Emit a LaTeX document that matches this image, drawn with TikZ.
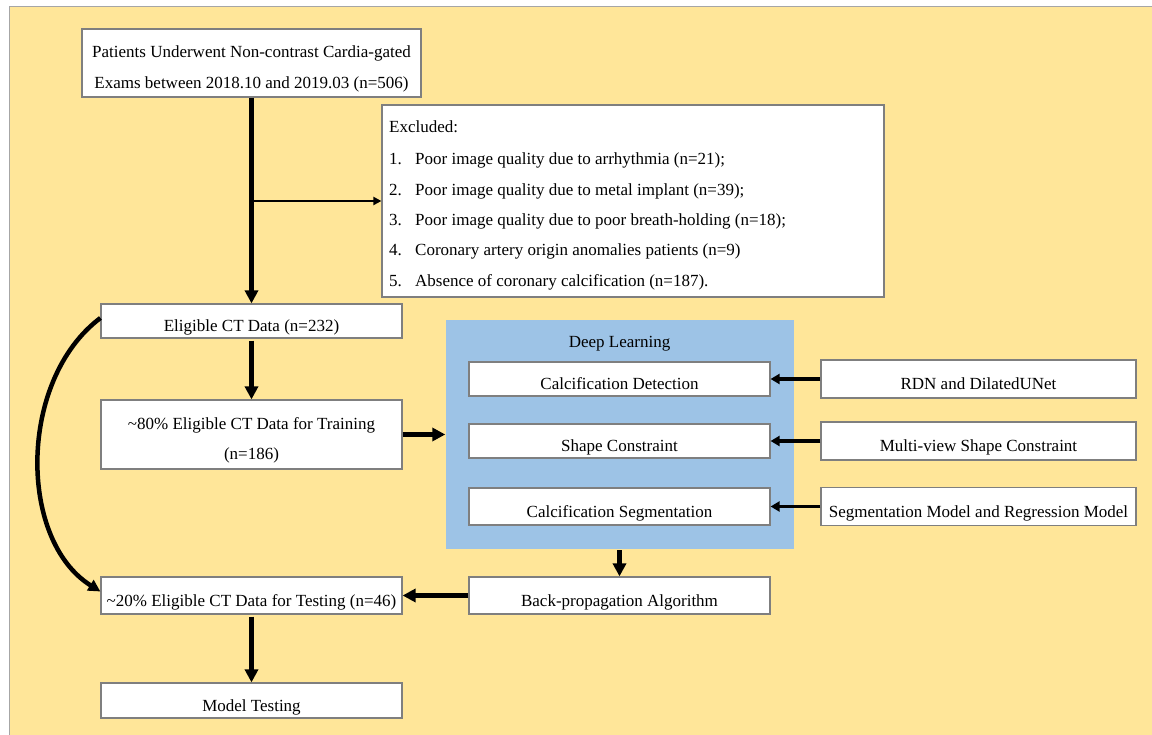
\documentclass[tikz,border=0pt]{standalone}
\usepackage{fontspec}
\setmainfont{Liberation Serif}
\usetikzlibrary{arrows.meta}
\definecolor{bgyellow}{HTML}{FFE699}
\definecolor{dlblue}{HTML}{9DC3E6}
\definecolor{boxline}{HTML}{7F7F7F}
\newcommand{\twoln}[2]{\raisebox{0pt}[10pt][21pt]{\renewcommand\arraystretch{1.5}\begin{tabular}[t]{@{}c@{}}#1\\#2\end{tabular}}}
\begin{document}
\begin{tikzpicture}[x=1pt,y=-1pt,
  boxbase/.style={draw=boxline, line width=1.2pt, fill=white, inner sep=0pt,
    font=\fontsize{17}{20.4}\selectfont},
  box/.style={boxbase, text height=21pt, text depth=0pt},
  txt/.style={inner sep=0pt, font=\fontsize{17}{20.4}\selectfont},
  bigarrow/.style={line width=5pt, -{Triangle[length=13pt,width=13pt]}},
  curvearrow/.style={line width=4.5pt, -{Triangle[length=12pt,width=12pt]}},
  midarrow/.style={line width=3.3pt, -{Triangle[length=9pt,width=10pt]}},
  smallarrow/.style={line width=2.2pt, -{Triangle[length=8pt,width=8pt]}}
]
\useasboundingbox (0,0) rectangle (1152,735);
\fill[bgyellow] (9,6) rectangle (1152,735);
\draw[black!35, line width=0.8pt] (9,735) -- (9,6) -- (1152,6);

% left column
\node[boxbase, minimum width=339pt, minimum height=68pt] (top) at (251.5,63)
  {\twoln{Patients Underwent Non-contrast Cardia-gated}{Exams between 2018.10 and 2019.03 (n=506)}};
\node[box, minimum width=301pt, minimum height=34pt] (elig) at (251.5,321) {Eligible CT Data (n=232)};
\node[boxbase, minimum width=301pt, minimum height=69pt] (train) at (251.5,434.5)
  {\twoln{\char`\~80\% Eligible CT Data for Training}{(n=186)}};
\node[box, minimum width=301pt, minimum height=37pt] (test) at (251.5,595.5) {\char`\~20\% Eligible CT Data for Testing (n=46)};
\node[box, minimum width=301pt, minimum height=35pt] (mt) at (251.5,700.5) {Model Testing};

% excluded
\node[boxbase, minimum width=502pt, minimum height=192pt] (excl) at (633,201) {};
\node[txt, anchor=base west] (ex0) at (389,133) {Excluded:};
\node[txt, anchor=base west] (ex1) at (389,165) {\makebox[26pt][l]{1.}Poor image quality due to arrhythmia (n=21);};
\node[txt, anchor=base west] (ex2) at (389,195.5) {\makebox[26pt][l]{2.}Poor image quality due to metal implant (n=39);};
\node[txt, anchor=base west] (ex3) at (389,226) {\makebox[26pt][l]{3.}Poor image quality due to poor breath-holding (n=18);};
\node[txt, anchor=base west] (ex4) at (389,256) {\makebox[26pt][l]{4.}Coronary artery origin anomalies patients (n=9)};
\node[txt, anchor=base west] (ex5) at (389,286.5) {\makebox[26pt][l]{5.}Absence of coronary calcification (n=187).};

% deep learning block
\node[fill=dlblue, draw=none, minimum width=348pt, minimum height=229pt, inner sep=0pt] (dl) at (619.5,434.5) {};
\node[txt, anchor=base] (dltitle) at (619.5,347.5) {Deep Learning};
\node[box, minimum width=301pt, minimum height=34pt] (cd) at (619.5,379) {Calcification Detection};
\node[box, minimum width=301pt, minimum height=34pt] (sc) at (619.5,441) {Shape Constraint};
\node[box, minimum width=301pt, minimum height=37pt] (cs) at (619.5,506.5) {Calcification Segmentation};
\node[box, minimum width=301pt, minimum height=37pt] (bp) at (619.5,595.5) {Back-propagation Algorithm};

% right column
\node[box, minimum width=315pt, minimum height=38pt] (rdn) at (978.5,379) {RDN and DilatedUNet};
\node[box, minimum width=315pt, minimum height=38pt] (mv) at (978.5,441) {Multi-view Shape Constraint};
\node[box, minimum width=315pt, minimum height=38pt] (seg) at (978.5,506.5) {Segmentation Model and Regression Model};

% connectors
\coordinate (br) at (251.5,201);
\draw[bigarrow] (top.south) -- (elig.north);
\draw[smallarrow] (br) -- (excl.west);
\draw[bigarrow] ([yshift=-2pt]elig.south) -- (train.north);
\draw[bigarrow] (train.east) -- (dl.west);
\draw[bigarrow] ([yshift=-1pt]dl.south) -- (bp.north);
\draw[bigarrow] (bp.west) -- (test.east);
\draw[bigarrow] ([yshift=-2pt]test.south) -- (mt.north);
\draw[midarrow] (rdn.west) -- (cd.east);
\draw[midarrow] (mv.west) -- (sc.east);
\draw[midarrow] (seg.west) -- (cs.east);
\draw[curvearrow] ([yshift=3pt]elig.west) .. controls (18,380) and (18,540) .. ([yshift=4pt]test.west);
\end{tikzpicture}
\end{document}
